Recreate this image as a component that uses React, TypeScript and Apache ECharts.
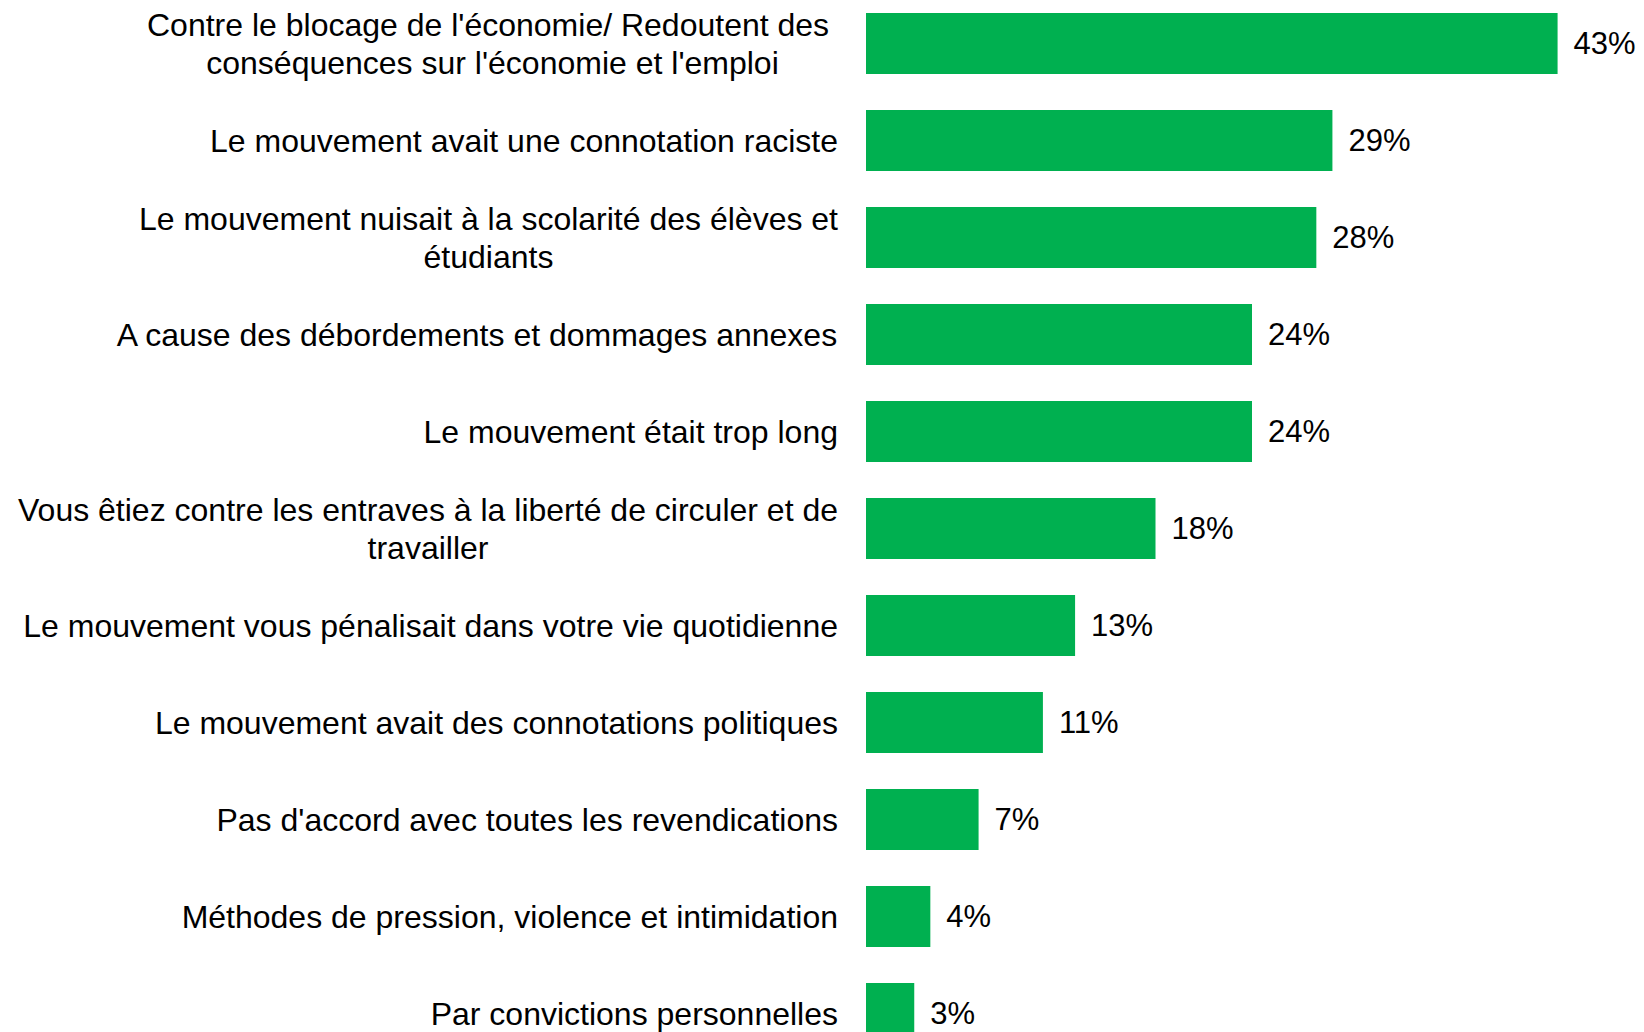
import React, { useEffect, useRef } from "react";
import * as echarts from "echarts";

const categories: string[] = [
  "Contre le blocage de l'économie/ Redoutent des \nconséquences sur l'économie et l'emploi",
  "Le mouvement avait une connotation raciste",
  "Le mouvement nuisait à la scolarité des élèves et\nétudiants",
  "A cause des débordements et dommages annexes",
  "Le mouvement était trop long",
  "Vous êtiez contre les entraves à la liberté de circuler et de\ntravailler",
  "Le mouvement vous pénalisait dans votre vie quotidienne",
  "Le mouvement avait des connotations politiques",
  "Pas d'accord avec toutes les revendications",
  "Méthodes de pression, violence et intimidation",
  "Par convictions personnelles",
];

const values: number[] = [43, 29, 28, 24, 24, 18, 13, 11, 7, 4, 3];

const FONT = "'Liberation Sans', Arial, sans-serif";

export default function App() {
  const ref = useRef<HTMLDivElement>(null);

  useEffect(() => {
    if (!ref.current) return;
    const chart = echarts.init(ref.current, undefined, { renderer: "svg" });
    chart.setOption({
      animation: false,
      backgroundColor: "#ffffff",
      grid: { left: 866, width: 772, top: 2, height: 1067, containLabel: false },
      xAxis: {
        type: "value",
        min: 0,
        max: 48,
        show: false,
      },
      yAxis: {
        type: "category",
        inverse: true,
        data: categories,
        axisLine: { show: false },
        axisTick: { show: false },
        splitLine: { show: false },
        axisLabel: {
          margin: 28,
          align: "right",
          color: "#000000",
          fontFamily: FONT,
          fontSize: 32,
          lineHeight: 38,
          formatter: (v: string) =>
            v
              .split("\n")
              .map((l) => `{c|${l}}`)
              .join("\n"),
          rich: {
            c: {
              align: "center",
              fontFamily: FONT,
              fontSize: 32,
              lineHeight: 38,
              color: "#000000",
            },
          },
        },
      },
      series: [
        {
          type: "bar",
          data: values,
          barCategoryGap: "37%",
          itemStyle: { color: "#00B050" },
          label: {
            show: true,
            position: "right",
            distance: 16,
            formatter: "{c}%",
            color: "#000000",
            fontFamily: FONT,
            fontSize: 31,
          },
        },
      ],
    });
    return () => chart.dispose();
  }, []);

  return (
    <div
      style={{
        position: "fixed",
        left: 0,
        top: 0,
        width: 1644,
        height: 1032,
        overflow: "hidden",
        background: "#fff",
      }}
    >
      <div
        ref={ref}
        style={{ position: "absolute", left: 0, top: -7, width: 1644, height: 1080 }}
      />
    </div>
  );
}
